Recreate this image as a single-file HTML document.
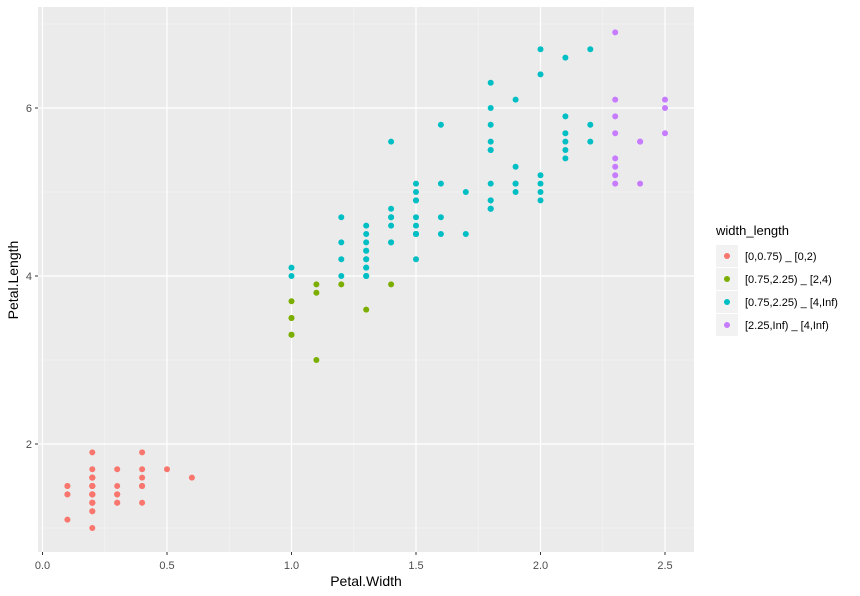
<!DOCTYPE html>
<html><head><meta charset="utf-8"><style>
body{margin:0;background:#fff;width:860px;height:596px;overflow:hidden}
svg{display:block;font-family:"Liberation Sans",sans-serif}
</style></head><body>
<svg id="s" width="860" height="596" xmlns="http://www.w3.org/2000/svg">
<rect x="38" y="7" width="656" height="545" fill="#ebebeb"/>
<g id="grid"></g>
<g id="pts"></g>
<g font-size="11" fill="#4d4d4d">
<text x="42.5" y="569" text-anchor="middle">0.0</text>
<text x="167" y="569" text-anchor="middle">0.5</text>
<text x="291.5" y="569" text-anchor="middle">1.0</text>
<text x="416" y="569" text-anchor="middle">1.5</text>
<text x="540.5" y="569" text-anchor="middle">2.0</text>
<text x="665" y="569" text-anchor="middle">2.5</text>
<text x="32" y="448" text-anchor="end">2</text>
<text x="32" y="280" text-anchor="end">4</text>
<text x="32" y="112" text-anchor="end">6</text>
</g>
<g stroke="#333" stroke-width="1">
<line x1="42.5" y1="552" x2="42.5" y2="555"/><line x1="167" y1="552" x2="167" y2="555"/><line x1="291.5" y1="552" x2="291.5" y2="555"/><line x1="416" y1="552" x2="416" y2="555"/><line x1="540.5" y1="552" x2="540.5" y2="555"/><line x1="665" y1="552" x2="665" y2="555"/>
<line x1="35" y1="444" x2="38" y2="444"/><line x1="35" y1="276" x2="38" y2="276"/><line x1="35" y1="108" x2="38" y2="108"/>
</g>
<text x="366" y="586" font-size="14" text-anchor="middle">Petal.Width</text>
<text x="18" y="280" font-size="14" text-anchor="middle" transform="rotate(-90 18 280)">Petal.Length</text>
<text x="716" y="235" font-size="13">width_length</text>
<g id="leg"></g>
</svg>
<script>
var ns="http://www.w3.org/2000/svg";
function el(p,t,a){var e=document.createElementNS(ns,t);for(var k in a)e.setAttribute(k,a[k]);p.appendChild(e);return e;}
function X(v){return 42.5+v*249;}function Y(v){return 444-(v-2)*84;}
var g=document.getElementById('grid');
[0.25,0.75,1.25,1.75,2.25].forEach(function(v){el(g,'line',{x1:X(v),x2:X(v),y1:7,y2:552,stroke:'#f5f5f5','stroke-width':0.6});});
[1,3,5,7].forEach(function(v){el(g,'line',{y1:Y(v),y2:Y(v),x1:38,x2:694,stroke:'#f5f5f5','stroke-width':0.6});});
[0,0.5,1,1.5,2,2.5].forEach(function(v){el(g,'line',{x1:X(v),x2:X(v),y1:7,y2:552,stroke:'#fff','stroke-width':1.2});});
[2,4,6].forEach(function(v){el(g,'line',{y1:Y(v),y2:Y(v),x1:38,x2:694,stroke:'#fff','stroke-width':1.2});});
var L=[1.4,1.4,1.3,1.5,1.4,1.7,1.4,1.5,1.4,1.5,1.5,1.6,1.4,1.1,1.2,1.5,1.3,1.4,1.7,1.5,1.7,1.5,1.0,1.7,1.9,1.6,1.6,1.5,1.4,1.6,1.6,1.5,1.5,1.4,1.5,1.2,1.3,1.4,1.3,1.5,1.3,1.3,1.3,1.6,1.9,1.4,1.6,1.4,1.5,1.4,
4.7,4.5,4.9,4.0,4.6,4.5,4.7,3.3,4.6,3.9,3.5,4.2,4.0,4.7,3.6,4.4,4.5,4.1,4.5,3.9,4.8,4.0,4.9,4.7,4.3,4.4,4.8,5.0,4.5,3.5,3.8,3.7,3.9,5.1,4.5,4.5,4.7,4.4,4.1,4.0,4.4,4.6,4.0,3.3,4.2,4.2,4.2,4.3,3.0,4.1,
6.0,5.1,5.9,5.6,5.8,6.6,4.5,6.3,5.8,6.1,5.1,5.3,5.5,5.0,5.1,5.3,5.5,6.7,6.9,5.0,5.7,4.9,6.7,4.9,5.7,6.0,4.8,4.9,5.6,5.8,6.1,6.4,5.6,5.1,5.6,6.1,5.6,5.5,4.8,5.4,5.6,5.1,5.1,5.9,5.7,5.2,5.0,5.2,5.4,5.1];
var W=[0.2,0.2,0.2,0.2,0.2,0.4,0.3,0.2,0.2,0.1,0.2,0.2,0.1,0.1,0.2,0.4,0.4,0.3,0.3,0.3,0.2,0.4,0.2,0.5,0.2,0.2,0.4,0.2,0.2,0.2,0.2,0.4,0.1,0.2,0.2,0.2,0.2,0.1,0.2,0.2,0.3,0.3,0.2,0.6,0.4,0.3,0.2,0.2,0.2,0.2,
1.4,1.5,1.5,1.3,1.5,1.3,1.6,1.0,1.3,1.4,1.0,1.5,1.0,1.4,1.3,1.4,1.5,1.0,1.5,1.1,1.8,1.3,1.5,1.2,1.3,1.4,1.4,1.7,1.5,1.0,1.1,1.0,1.2,1.6,1.5,1.6,1.5,1.3,1.3,1.3,1.2,1.4,1.2,1.0,1.3,1.2,1.3,1.3,1.1,1.3,
2.5,1.9,2.1,1.8,2.2,2.1,1.7,1.8,1.8,2.5,2.0,1.9,2.1,2.0,2.4,2.3,1.8,2.2,2.3,1.5,2.3,2.0,2.0,1.8,2.1,1.8,1.8,1.8,2.1,1.6,1.9,2.0,2.2,1.5,1.4,2.3,2.4,1.8,1.8,2.1,2.4,2.3,1.9,2.3,2.5,2.3,1.9,2.0,2.3,1.8];
var C=['#F8766D','#7CAE00','#00BFC4','#C77CFF'];
var p=document.getElementById('pts');
for(var i=0;i<150;i++){var w=W[i],l=L[i],c;
if(w<0.75)c=0;else if(w<2.25)c=(l<4?1:2);else c=3;
el(p,'circle',{cx:X(w),cy:Y(l),r:3,fill:C[c]});}
var lg=document.getElementById('leg');
var labs=['[0,0.75) _ [0,2)','[0.75,2.25) _ [2,4)','[0.75,2.25) _ [4,Inf)','[2.25,Inf) _ [4,Inf)'];
for(var j=0;j<4;j++){var y0=245+j*23;
el(lg,'rect',{x:716,y:y0,width:22,height:22,fill:'#f2f2f2'});
el(lg,'circle',{cx:727,cy:y0+11,r:3,fill:C[j]});
var t=el(lg,'text',{x:745,y:y0+15,'font-size':11,fill:'#000'});t.textContent=labs[j];}
</script>
</body></html>
